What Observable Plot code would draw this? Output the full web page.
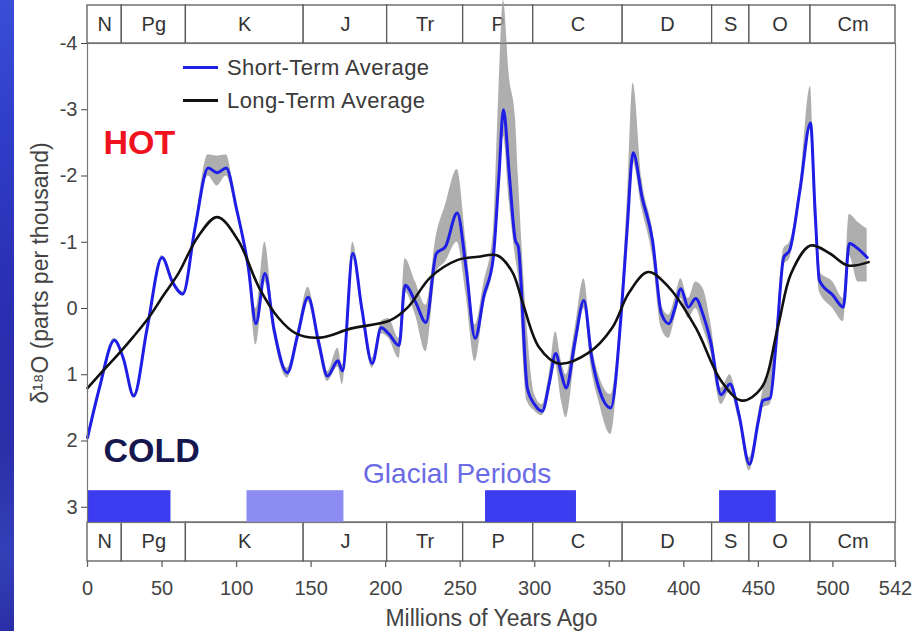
<!DOCTYPE html>
<html>
<head>
<meta charset="utf-8">
<script src="https://cdn.jsdelivr.net/npm/d3@7"></script>
<script src="https://cdn.jsdelivr.net/npm/@observablehq/plot@0.6"></script>
<style>
  html, body { margin: 0; padding: 0; background: #fff; }
  #wrap { position: relative; width: 918px; height: 631px; overflow: hidden; background: #fff; }
  #stripe { position: absolute; left: 0; top: 0; width: 14px; height: 631px;
    background: linear-gradient(180deg, #3a4ed6 0%, #2f3ec8 20%, #2a2fb4 45%, #2a2ea8 70%, #3340b8 88%, #2a2ea6 100%); }
  #chart { position: absolute; left: 0; top: 0; }
  .legend { position: absolute; left: 183px; top: 51px; font: 22px "Liberation Sans", Arial, sans-serif; letter-spacing: 0.4px; color: #3a3a3a; }
  .legend .row { display: flex; align-items: center; height: 33px; }
  .legend .sw { width: 35px; height: 3px; margin-right: 9px; }
</style>
</head>
<body>
<div id="wrap">
  <div id="stripe"></div>
  <div id="chart"></div>
  <div class="legend">
    <div class="row"><div class="sw" style="background:#1e1ee6"></div><span>Short-Term Average</span></div>
    <div class="row"><div class="sw" style="background:#111"></div><span>Long-Term Average</span></div>
  </div>
</div>
<script>
// Geological periods (Ma)
const periodNames = ["N", "Pg", "K", "J", "Tr", "P", "C", "D", "S", "O", "Cm"];
const periodStart = [0, 23, 66, 145, 201, 252, 299, 359, 419, 444, 485];
const periodEnd   = [23, 66, 145, 201, 252, 299, 359, 419, 444, 485, 542];

// Glacial periods (Ma)
const glacialStart = [0, 107, 267, 424];
const glacialEnd   = [56, 172, 328, 462];
const glacialKind  = ["strong", "weak", "strong", "strong"];

// Ticks
const xTicks = [0, 50, 100, 150, 200, 250, 300, 350, 400, 450, 500, 542];
const yTicks = [-4, -3, -2, -1, 0, 1, 2, 3];

// Short-term average (age Ma, d18O) with uncertainty band
const stAge = [0, 8, 18, 24, 31, 40, 50, 57, 64, 72, 81, 87, 93, 100, 108, 113, 119, 125, 134, 141, 148, 155, 161, 168, 171, 178, 184, 191, 197, 202, 209, 213, 220, 227, 234, 240, 248, 254, 260, 266, 272, 276, 279, 283, 287, 289, 295, 300, 305, 310, 314, 318, 321, 327, 333, 338, 343, 351, 358, 362, 366, 372, 379, 385, 390, 394, 398, 403, 408, 413, 418, 425, 431, 437, 444, 450, 453, 458, 462, 467, 471, 478, 485, 488, 491, 500, 507, 511, 517, 523];
const stValue = [1.95, 1.2, 0.48, 0.75, 1.32, 0.3, -0.77, -0.4, -0.22, -1.2, -2.12, -2.05, -2.12, -1.5, -0.6, 0.23, -0.53, 0.3, 0.97, 0.4, -0.17, 0.5, 1.02, 0.79, 0.94, -0.83, 0.0, 0.83, 0.29, 0.38, 0.56, -0.35, -0.1, 0.21, -0.83, -0.93, -1.44, -0.6, 0.45, -0.2, -0.73, -2.0, -3.0, -2.0, -1.03, -0.93, 1.2, 1.45, 1.55, 1.1, 0.68, 1.0, 1.2, 0.5, -0.12, 0.7, 1.2, 1.5, 0.08, -1.2, -2.35, -1.68, -1.03, 0.08, 0.23, 0.0, -0.3, -0.02, -0.15, 0.1, 0.5, 1.3, 1.14, 1.6, 2.35, 1.7, 1.39, 1.35, 0.5, -0.77, -0.88, -1.8, -2.8, -1.5, -0.42, -0.2, -0.02, -0.98, -0.9, -0.77];
const bandUpper = [1.92, 1.17, 0.45, 0.72, 1.29, 0.27, -0.8, -0.43, -0.25, -1.25, -2.32, -2.3, -2.32, -1.56, -0.68, 0.0, -1.0, 0.2, 0.9, 0.33, -0.32, 0.42, 0.95, 0.6, 0.85, -1.0, -0.08, 0.75, 0.2, 0.15, 0.45, -0.75, -0.4, -0.05, -1.1, -1.55, -2.1, -1.0, 0.25, -0.4, -1.1, -3.3, -4.65, -3.5, -2.9, -2.0, 0.3, 1.3, 1.45, 0.95, 0.35, 0.8, 1.0, 0.3, -0.45, 0.5, 1.0, 1.3, -0.1, -1.6, -3.4, -1.95, -1.2, -0.05, 0.1, -0.15, -0.45, -0.15, -0.4, -0.3, 0.2, 1.2, 1.0, 1.5, 2.25, 1.6, 1.25, 0.95, 0.35, -0.9, -1.0, -1.9, -3.35, -1.65, -0.55, -0.4, -0.15, -1.42, -1.3, -1.2];
const bandLower = [1.98, 1.23, 0.51, 0.78, 1.35, 0.33, -0.74, -0.37, -0.19, -1.15, -2.0, -1.85, -2.0, -1.44, -0.52, 0.55, -0.4, 0.4, 1.05, 0.47, -0.1, 0.6, 1.1, 0.88, 1.15, -0.75, 0.08, 0.9, 0.38, 0.45, 0.75, -0.25, 0.1, 0.65, -0.55, -0.7, -1.0, -0.2, 0.8, -0.05, -0.6, -1.7, -2.6, -1.6, -0.8, -0.5, 1.4, 1.55, 1.62, 1.25, 0.85, 1.4, 1.65, 0.75, 0.0, 0.9, 1.4, 1.9, 0.25, -1.0, -2.2, -1.5, -0.8, 0.3, 0.45, 0.15, -0.15, 0.15, 0.0, 0.3, 0.65, 1.45, 1.25, 1.7, 2.45, 1.8, 1.5, 1.45, 0.65, -0.65, -0.75, -1.7, -2.7, -1.3, -0.25, 0.0, 0.2, -0.8, -0.4, -0.4];

// Long-term average (age Ma, d18O)
const ltAge = [0, 10, 21, 31, 41, 51, 61, 74, 87, 101, 115, 128, 140, 156, 177, 203, 215, 230, 248, 262, 275, 285, 292, 303, 316, 336, 352, 363, 376, 390, 408, 425, 439, 452, 463, 472, 485, 498, 510, 524];
const ltValue = [1.2, 0.95, 0.68, 0.42, 0.14, -0.2, -0.53, -1.08, -1.38, -1.03, -0.32, 0.14, 0.38, 0.44, 0.3, 0.18, -0.02, -0.47, -0.73, -0.78, -0.8, -0.55, -0.08, 0.59, 0.83, 0.67, 0.29, -0.23, -0.55, -0.32, 0.29, 1.09, 1.39, 1.2, 0.29, -0.53, -0.95, -0.83, -0.65, -0.7];

const yLabel = "δ¹⁸O (parts per thousand)";
const xLabel = "Millions of Years Ago";

// ---- build tables ----
const periods = periodNames.map((n, i) => ({name: n, start: periodStart[i], end: periodEnd[i]}));
const glacials = glacialStart.map((s, i) => ({start: s, end: glacialEnd[i], kind: glacialKind[i]}));
const shortTerm = stAge.map((a, i) => ({age: a, v: stValue[i], up: bandUpper[i], lo: bandLower[i]}));
const longTerm = ltAge.map((a, i) => ({age: a, v: ltValue[i]}));

const Y_TOP = -4, Y_BOT = 3.23;          // plot y domain
const unit = (522 - 43) / (Y_BOT - Y_TOP); // px per unit
const topBand = [Y_TOP - 38 / unit, Y_TOP];
const botBand = [Y_BOT, Y_BOT + 39 / unit];
const font = '"Liberation Sans", Arial, Helvetica, sans-serif';
const fmt = d => (d < 0 ? "-" + Math.abs(d) : String(d));

const chart = Plot.plot({
  width: 918,
  height: 631,
  marginLeft: 87,
  marginRight: 23,
  marginTop: 43,
  marginBottom: 109,
  style: {fontFamily: font, background: "transparent", color: "#444", overflow: "visible"},
  x: {domain: [0, 542], axis: null},
  y: {domain: [Y_TOP, Y_BOT], reverse: true, axis: null},
  marks: [
    // period bands (top and bottom)
    Plot.rect(periods, {x1: "start", x2: "end", y1: topBand[0], y2: topBand[1], fill: "white", stroke: "#5a5a5a", strokeWidth: 1.3}),
    Plot.rect(periods, {x1: "start", x2: "end", y1: botBand[0], y2: botBand[1], fill: "white", stroke: "#5a5a5a", strokeWidth: 1.3}),
    Plot.text(periods, {x: d => (d.start + d.end) / 2, y: (topBand[0] + topBand[1]) / 2, text: "name", fontSize: 20, fill: "#333", lineAnchor: "middle"}),
    Plot.text(periods, {x: d => (d.start + d.end) / 2, y: (botBand[0] + botBand[1]) / 2, text: "name", fontSize: 20, fill: "#333", lineAnchor: "middle"}),
    // glacial periods
    Plot.rect(glacials, {x1: "start", x2: "end", y1: 2.75, y2: Y_BOT, fill: d => d.kind === "strong" ? "#3c3cf0" : "#8c8cf2"}),
    // uncertainty band
    Plot.areaY(shortTerm, {x: "age", y1: "lo", y2: "up", fill: "#a0a0a0", fillOpacity: 0.85, curve: "monotone-x"}),
    // curves
    Plot.line(shortTerm, {x: "age", y: "v", stroke: "#1e1ee6", strokeWidth: 3, curve: "monotone-x"}),
    Plot.line(longTerm, {x: "age", y: "v", stroke: "#111", strokeWidth: 2.6, curve: "catmull-rom"}),
    // frame
    Plot.frame({stroke: "#777", strokeWidth: 1.2}),
    // y axis
    Plot.axisY({ticks: yTicks, tickFormat: fmt, tickSize: 6, tickPadding: 4, fontSize: 20, color: "#444", label: null}),
    Plot.text([yLabel], {frameAnchor: "left", dx: -47, dy: -10, rotate: -90, textAnchor: "middle", text: d => d, fontSize: 23, fill: "#444"}),
    // x axis below bottom band
    Plot.ruleX(xTicks, {x: d => d, y1: botBand[1], y2: botBand[1] + 6 / unit, stroke: "#666", strokeWidth: 1.3}),
    Plot.text(xTicks, {x: d => d, y: botBand[1] + 27 / unit, text: d => String(d), fontSize: 20, fill: "#444", lineAnchor: "middle"}),
    Plot.text([xLabel], {x: 271, y: botBand[1] + 57 / unit, text: d => d, fontSize: 23, fill: "#444", lineAnchor: "middle"}),
    // annotations
    Plot.text(["HOT"], {x: 10.7, y: -2.5, text: d => d, textAnchor: "start", lineAnchor: "middle", fontSize: 34, fontWeight: "bold", fill: "#f0121e"}),
    Plot.text(["COLD"], {x: 10.7, y: 2.15, text: d => d, textAnchor: "start", lineAnchor: "middle", fontSize: 34, fontWeight: "bold", fill: "#17174f"}),
    Plot.text(["Glacial Periods"], {x: 248, y: 2.5, text: d => d, lineAnchor: "middle", fontSize: 28, fill: "#6b6be6"})
  ]
});
document.getElementById("chart").appendChild(chart);
</script>
</body>
</html>
